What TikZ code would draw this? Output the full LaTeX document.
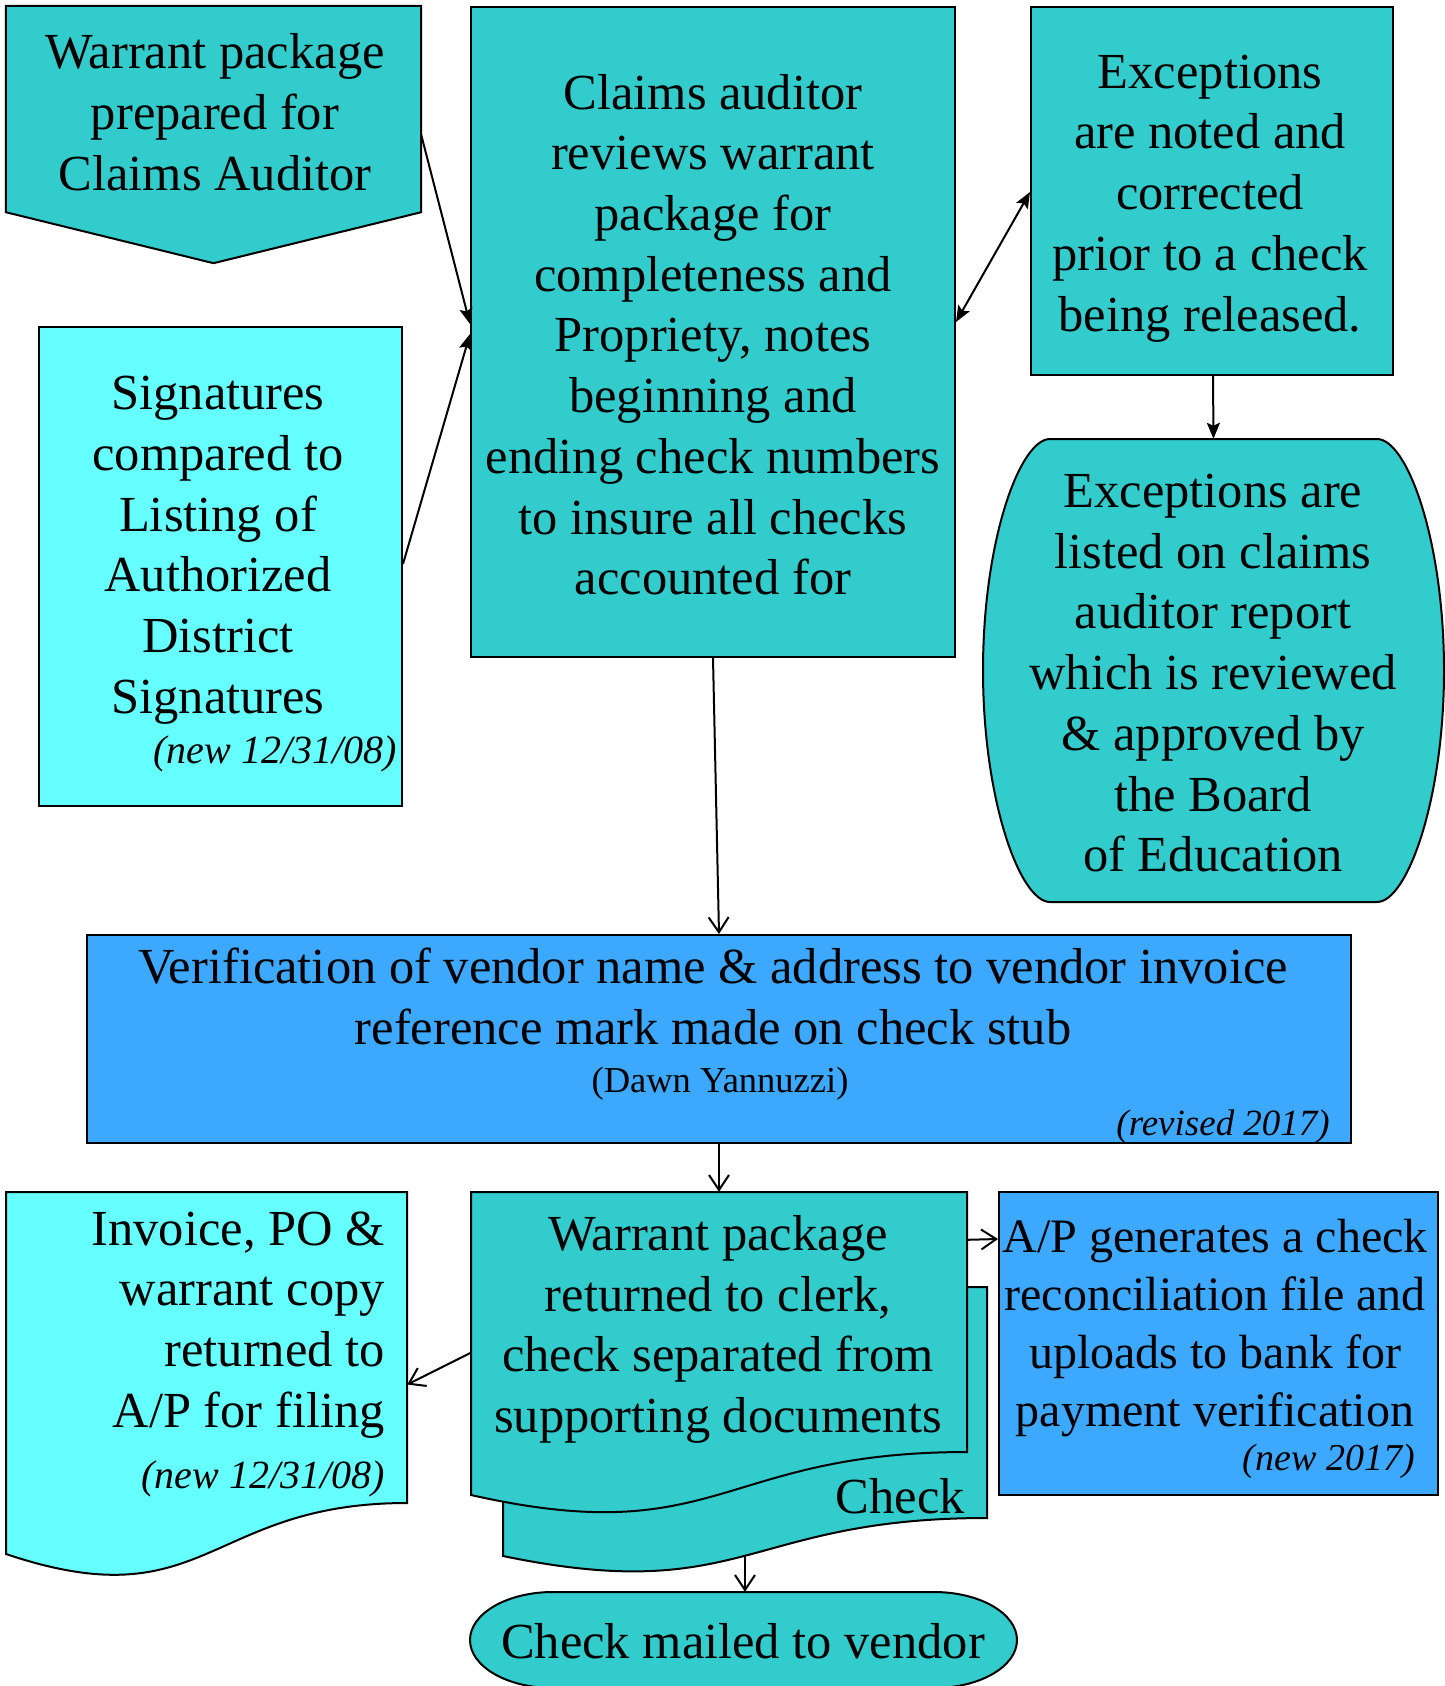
\documentclass[tikz,border=0pt]{standalone}
\usepackage{fontspec}
\setmainfont{Liberation Serif}
\usetikzlibrary{arrows.meta,calc}

\definecolor{tealfill}{RGB}{51,204,204}
\definecolor{cyanfill}{RGB}{102,255,255}
\definecolor{bluefill}{RGB}{60,169,255}

\tikzset{
  outline/.style={draw=black, line width=2pt, line join=miter},
  boxnode/.style={outline, rectangle, inner sep=0pt},
  frame/.style={rectangle, inner sep=0pt},
  bodytext/.style={align=center, inner sep=0pt, yshift=-8.5pt,
    font=\fontsize{50.5}{60.7}\selectfont,
    execute at begin node=\strut, execute at end node=\strut},
  righttext/.style={bodytext, align=right},
  notetext/.style={inner sep=0pt, font=\fontsize{40}{48}\selectfont\itshape},
  filledarrow/.style={line width=2pt, -{Stealth[length=16pt,width=13pt,inset=3pt]}},
  twowayarrow/.style={line width=2pt, {Stealth[length=16pt,width=13pt,inset=3pt]}-{Stealth[length=16pt,width=13pt,inset=3pt]}},
  openarrow/.style={line width=2pt, -{Straight Barb[length=15pt,width=20pt]}},
}

\begin{document}
\begin{tikzpicture}[x=1pt,y=-1pt]
\useasboundingbox (0,0) rectangle (1445,1686);

% ---------- outlines ----------
% off-page connector
\node[frame, minimum width=415, minimum height=206] (n1) at (213.5,109) {};
\draw[outline, fill=tealfill] (n1.north west) -- (n1.north east) -- (n1.south east)
  -- ($(n1.south)+(0,51)$) -- (n1.south west) -- cycle;

% signature check
\node[boxnode, fill=cyanfill, minimum width=363, minimum height=479] (n2) at (220.5,566.5) {};

% claims auditor review
\node[boxnode, fill=tealfill, minimum width=484, minimum height=650] (n3) at (713,332) {};

% exceptions corrected
\node[boxnode, fill=tealfill, minimum width=362, minimum height=368] (n4) at (1212,191) {};

% exceptions listed (bulged sides)
\node[frame, minimum width=461, minimum height=463] (n5) at (1213.5,670.5) {};
\draw[outline, fill=tealfill] (1050,439) -- (1377,439)
  .. controls (1407,439) and (1444,540) .. (1444,670.5)
  .. controls (1444,800) and (1407,902) .. (1377,902)
  -- (1050,902)
  .. controls (1020,902) and (983,800) .. (983,670.5)
  .. controls (983,540) and (1020,439) .. (1050,439) -- cycle;

% vendor verification
\node[boxnode, fill=bluefill, minimum width=1264, minimum height=208] (n6) at (719,1039) {};

% filing document
\node[frame, minimum width=401, minimum height=385] (n7) at (206.5,1384.5) {};
\draw[outline, fill=cyanfill] (6,1192) -- (407,1192) -- (407,1503)
  .. controls (206.5,1503) and (206.5,1621.5) .. (6,1554) -- cycle;

% multi-document: check behind, warrant package in front
\node[frame, minimum width=484, minimum height=285] (n8b) at (745,1429.5) {};
\draw[outline, fill=tealfill] (503,1287) -- (987,1287) -- (987,1518)
  .. controls (745,1518) and (745,1606) .. (503,1556) -- cycle;
\node[frame, minimum width=496, minimum height=320] (n8) at (719,1352) {};
\draw[outline, fill=tealfill] (471,1192) -- (967,1192) -- (967,1452)
  .. controls (719,1452) and (719,1551) .. (471,1495) -- cycle;

% reconciliation file
\node[boxnode, fill=bluefill, minimum width=439, minimum height=303] (n9) at (1218.5,1343.5) {};

% terminator
\node[frame, minimum width=547, minimum height=96] (n10) at (743.5,1640) {};
\draw[outline, fill=tealfill] (553,1592) -- (934,1592)
  arc[start angle=-90, end angle=90, x radius=83, y radius=48]
  -- (553,1688)
  arc[start angle=90, end angle=270, x radius=83, y radius=48] -- cycle;

% ---------- texts ----------
\node[bodytext] (t1) at (215,112.5) {Warrant package\\prepared for\\Claims Auditor};

\node[bodytext] (t2) at (218,545.5) {Signatures\\compared to\\Listing of\\Authorized\\District\\Signatures};
\node[notetext, anchor=base east] (t2n) at (397,763) {(new 12/31/08)};

\node[bodytext] (t3) at (713,335) {Claims auditor\\reviews warrant\\package for\\completeness and\\Propriety, notes\\beginning and\\ending check numbers\\to insure all checks\\accounted for};

\node[bodytext] (t4) at (1210,193.5) {Exceptions\\are noted and\\corrected\\prior to a check\\being released.};

\node[bodytext] (t5) at (1213,673.5) {Exceptions are\\listed on claims\\auditor report\\which is reviewed\\\& approved by\\the Board\\of Education};

\node[bodytext] (t6) at (713,997) {Verification of vendor name \& address to vendor invoice\\reference mark made on check stub};
\node[inner sep=0pt, font=\fontsize{36.5}{44}\selectfont, anchor=base] (t6b) at (720,1092) {(Dawn Yannuzzi)};
\node[inner sep=0pt, font=\fontsize{37}{44}\selectfont\itshape, anchor=base east] (t6c) at (1330,1135) {(revised 2017)};

\node[righttext, anchor=east] (t7) at (385,1320) {Invoice, PO \&\\warrant copy\\returned to\\A/P for filing};
\node[notetext, anchor=base east] (t7n) at (385,1488) {(new 12/31/08)};

\node[bodytext] (t8) at (718,1324.5) {Warrant package\\returned to clerk,\\check separated from\\supporting documents};
\node[inner sep=0pt, font=\fontsize{50.5}{60.7}\selectfont, anchor=base east] (t8c) at (965,1513) {Check};

\node[bodytext, font=\fontsize{48}{58}\selectfont] (t9) at (1215,1323) {A/P generates a check\\reconciliation file and\\uploads to bank for\\payment verification};
\node[inner sep=0pt, font=\fontsize{38}{46}\selectfont\itshape, anchor=base east] (t9n) at (1415,1470) {(new 2017)};

\node[inner sep=0pt, font=\fontsize{50.5}{60.7}\selectfont, anchor=base] (t10) at (743,1658) {Check mailed to vendor};

% ---------- connectors ----------
\draw[filledarrow] ($(n1.north east)+(0,129)$) -- ($(n3.north west)+(0,318)$);
\draw[filledarrow] ($(n2.north east)+(0,238)$) -- ($(n3.north west)+(0,328)$);
\draw[twowayarrow] ($(n3.north east)+(0,316)$) -- ($(n4.north west)+(0,186)$);
\draw[filledarrow] ($(n4.south)+(1,0)$) -- (n5.north);
\draw[openarrow] (n3.south) -- (n6.north);
\draw[openarrow] (n6.south) -- (n8.north);
\draw[openarrow] ($(n8.north west)+(0,161)$) -- (n7.east);
\draw[openarrow] ($(n8.north east)+(0,48)$) -- ($(n9.north west)+(0,48)$);
\draw[openarrow] ($(n8b.south)+(0,-16)$) -- (n10.north -| n8b.south);
\end{tikzpicture}
\end{document}
